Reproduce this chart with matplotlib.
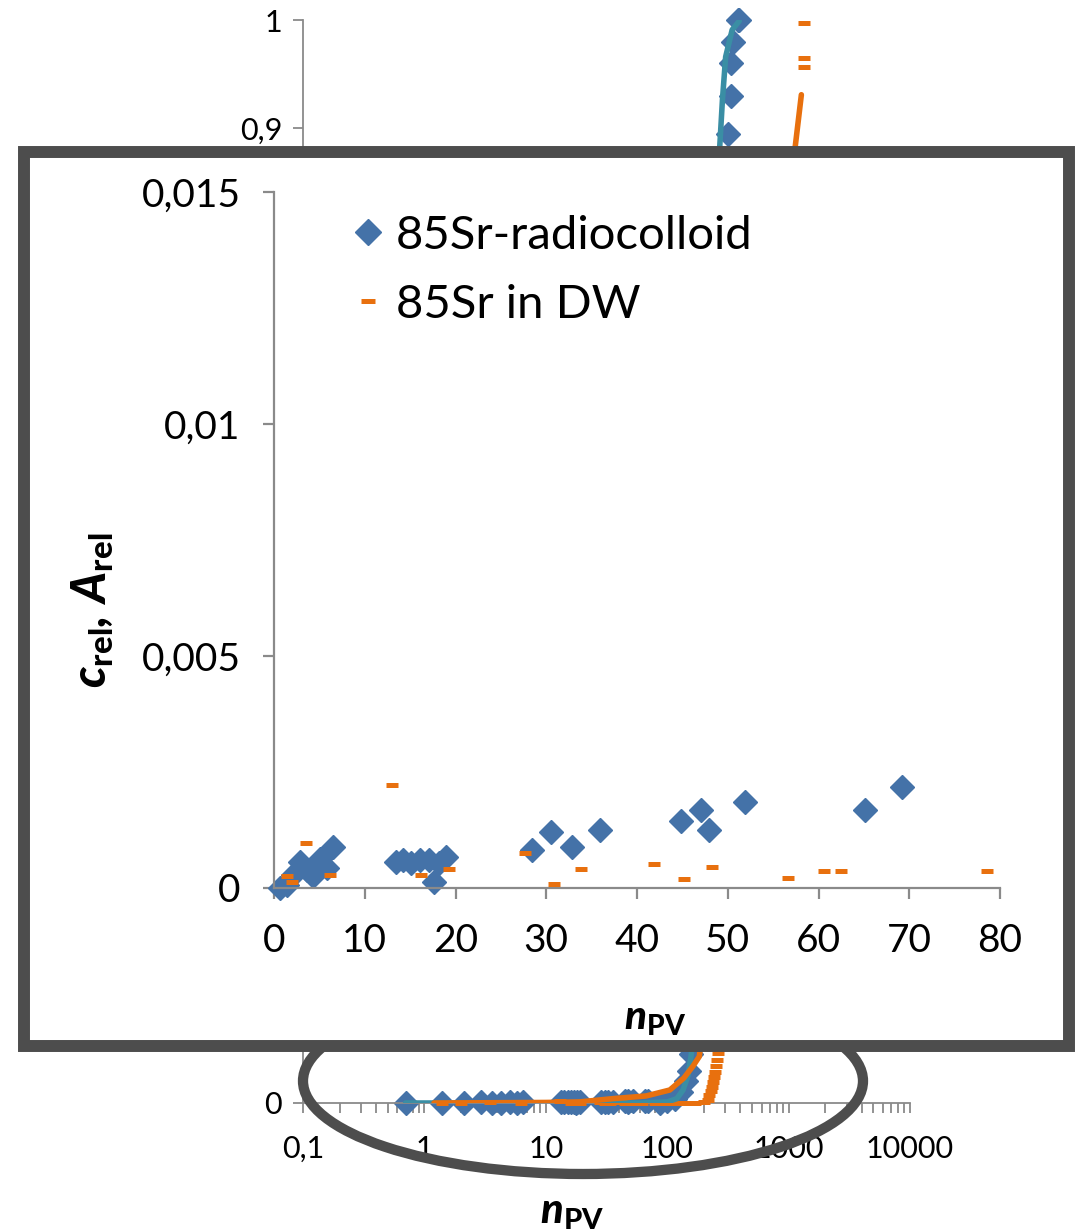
import matplotlib
matplotlib.use("Agg")
import matplotlib.pyplot as plt
from matplotlib.patches import Rectangle, Ellipse
from matplotlib.ticker import FixedLocator, FixedFormatter, LogLocator, NullFormatter

plt.rcParams['font.family'] = ['Lato', 'DejaVu Sans']
plt.rcParams['mathtext.fontset'] = 'custom'
plt.rcParams['mathtext.rm'] = 'Lato'
plt.rcParams['mathtext.bf'] = 'Lato:black'
plt.rcParams['mathtext.it'] = 'Lato:italic'
plt.rcParams['mathtext.bfit'] = 'Lato:italic:black'

# --- measured series -------------------------------------------------------
colloid_x = [0.7, 1.4, 2.1, 2.9, 3.6, 4.3, 5.1, 5.8, 6.5,
             13.4, 14.2, 15.1, 16.1, 17.1, 17.6, 18.2, 19.0,
             28.4, 30.5, 32.8, 35.9, 44.9, 47.1, 47.9, 51.9, 65.1, 69.2,
             88, 100, 115, 130, 142, 150, 156,
             314, 334, 336, 349, 385, 392]
colloid_y = [0.0, 0.00006, 0.00028, 0.00057, 0.00039, 0.00026, 0.00062, 0.00043, 0.00088,
             0.00057, 0.0006, 0.00054, 0.0006, 0.0006, 0.00014, 0.00054, 0.00067,
             0.00082, 0.00121, 0.00089, 0.00125, 0.00145, 0.00169, 0.00126, 0.00186, 0.00169, 0.00218,
             0.0, 0.002, 0.004, 0.01, 0.02, 0.03, 0.045,
             0.895, 0.93, 0.96, 0.98, 1.0, 1.0]

dw_x = [1.4, 2.0, 3.5, 6.2, 13.0, 16.2, 19.3, 27.7, 30.9, 33.8, 41.9, 45.2, 48.3,
        56.6, 60.6, 62.5, 78.6,
        95, 115, 140, 170, 200,
        215, 222, 228, 233, 238, 243, 248, 252, 256, 260,
        1330, 1340, 1345]
dw_y = [0.00026, 0.00014, 0.00098, 0.00029, 0.00222, 0.00029, 0.00041, 0.00075, 0.00009,
        0.00042, 0.00052, 0.00019, 0.00045, 0.00021, 0.00036, 0.00037, 0.00037,
        0.0003, 0.0003, 0.0002, 0.0004, 0.001,
        0.003, 0.007, 0.011, 0.015, 0.019, 0.024, 0.029, 0.034, 0.040, 0.046,
        0.957, 0.965, 0.997]

# --- fitted curves ----------------------------------------------------------
fit_colloid_x = [0.7, 20, 60, 100, 120, 135, 148, 158, 268, 285, 303, 343, 392]
fit_colloid_y = [0.0, 0.0, 0.0, 0.001, 0.004, 0.012, 0.025, 0.045, 0.874, 0.926, 0.966, 0.991, 0.999]

fit_dw_x = [1.2, 10, 19, 35.5, 67, 105, 137, 163, 184, 1109, 1274]
fit_dw_y = [0.0, 0.0005, 0.001, 0.004, 0.0065, 0.012, 0.023, 0.034, 0.043, 0.874, 0.931]

# --- axis ticks / labels ----------------------------------------------------
log_ticks = [0.1, 1, 10, 100, 1000, 10000]
log_tick_labels = ['0,1', '1', '10', '100', '1000', '10000']
main_y_ticks = [0.0, 0.1, 0.2, 0.3, 0.4, 0.5, 0.6, 0.7, 0.8, 0.9, 1.0]
main_y_labels = ['0', '0,1', '0,2', '0,3', '0,4', '0,5', '0,6', '0,7', '0,8', '0,9', '1']
zoom_x_ticks = [0, 10, 20, 30, 40, 50, 60, 70, 80]
zoom_x_labels = ['0', '10', '20', '30', '40', '50', '60', '70', '80']
zoom_y_ticks = [0.0, 0.005, 0.01, 0.015]
zoom_y_labels = ['0', '0,005', '0,01', '0,015']

series_names = ['85Sr-radiocolloid', '85Sr in DW']

BLUE = '#4472a8'
ORANGE = '#e8700e'
TEAL = '#3a8ea4'
AXIS = '#8a8a8a'
FRAME = '#4d4d4d'

W, H = 1076, 1230
fig = plt.figure(figsize=(W / 100, H / 100), dpi=100)


def frac(left, top, right, bottom):
    return [left / W, 1 - bottom / H, (right - left) / W, (bottom - top) / H]


# --- full breakthrough curve on log axis ---------------------------------
ax = fig.add_axes(frac(303, 20, 910, 1103), zorder=0)
ax.set_xscale('log')
ax.set_xlim(0.1, 10000)
ax.set_ylim(0, 1)
ax.plot(colloid_x, colloid_y, linestyle='none', marker='D', ms=12,
        color=BLUE, mec=BLUE, zorder=2, clip_on=False)
ax.plot(dw_x, dw_y, linestyle='none', marker='_', ms=8.6, mew=3.6,
        color=ORANGE, zorder=3, clip_on=False)
ax.plot(fit_colloid_x, fit_colloid_y, color=TEAL, lw=4, zorder=4,
        solid_capstyle='round')
ax.plot(fit_dw_x, fit_dw_y, color=ORANGE, lw=4, zorder=5,
        solid_capstyle='round')

for s in ['top', 'right']:
    ax.spines[s].set_visible(False)
for s in ['left', 'bottom']:
    ax.spines[s].set_color(AXIS)
    ax.spines[s].set_linewidth(1.3)
ax.xaxis.set_major_locator(FixedLocator(log_ticks))
ax.xaxis.set_major_formatter(FixedFormatter(log_tick_labels))
ax.xaxis.set_minor_locator(LogLocator(base=10, subs=[2, 3, 4, 5, 6, 7, 8, 9]))
ax.xaxis.set_minor_formatter(NullFormatter())
ax.yaxis.set_major_locator(FixedLocator(main_y_ticks))
ax.yaxis.set_major_formatter(FixedFormatter(main_y_labels))
ax.tick_params(axis='x', which='both', direction='out', length=7, width=1.3,
               color=AXIS, labelsize=22, pad=16)
ax.tick_params(axis='y', which='both', direction='out', length=7, width=1.3,
               color=AXIS, labelsize=22, pad=8)
ax.set_xlabel(r'$\mathbfit{n}_{\mathbf{PV}}$', fontsize=30)
ax.xaxis.set_label_coords((572 - 303) / (910 - 303), -(1194 - 1103) / (1103 - 20))
ax.patch.set_alpha(0)

# --- highlight ring around the low-concentration region --------------------
ring = Ellipse((583 / 100, (H - 1081) / 100), 5.60, 1.86,
               transform=fig.dpi_scale_trans, fill=False,
               edgecolor=FRAME, lw=7.4, zorder=0.5)
fig.add_artist(ring)

# --- framed inset panel ------------------------------------------------------
panel = Rectangle((24 / 100, (H - 1046) / 100), (1069 - 24) / 100, (1046 - 152) / 100,
                  transform=fig.dpi_scale_trans, facecolor='white',
                  edgecolor=FRAME, lw=8.6, zorder=1)
fig.add_artist(panel)

ins = fig.add_axes(frac(274, 192, 1000, 888), zorder=2)
ins.patch.set_alpha(0)
ins.set_xlim(0, 80)
ins.set_ylim(0, 0.015)
h1, = ins.plot(colloid_x, colloid_y, linestyle='none', marker='D', ms=12,
               color=BLUE, mec=BLUE, zorder=2, clip_on=False)
h2, = ins.plot(dw_x, dw_y, linestyle='none', marker='_', ms=8.6, mew=3.6,
               color=ORANGE, zorder=3, clip_on=False)
# keep only the points that fall inside the zoomed window
for line in (h1, h2):
    xs, ys = line.get_data()
    keep = [(a, b) for a, b in zip(xs, ys) if a <= 80 and b <= 0.015]
    line.set_data([k[0] for k in keep], [k[1] for k in keep])

for s in ['top', 'right']:
    ins.spines[s].set_visible(False)
for s in ['left', 'bottom']:
    ins.spines[s].set_color(AXIS)
    ins.spines[s].set_linewidth(1.6)
ins.xaxis.set_major_locator(FixedLocator(zoom_x_ticks))
ins.xaxis.set_major_formatter(FixedFormatter(zoom_x_labels))
ins.yaxis.set_major_locator(FixedLocator(zoom_y_ticks))
ins.yaxis.set_major_formatter(FixedFormatter(zoom_y_labels))
ins.tick_params(axis='x', direction='out', length=8, width=1.6,
                color=AXIS, labelsize=28, pad=17)
ins.tick_params(axis='y', direction='out', length=8, width=1.6,
                color=AXIS, labelsize=28, pad=16)
ins.set_xlabel(r'$\mathbfit{n}_{\mathbf{PV}}$', fontsize=29)
ins.xaxis.set_label_coords((655 - 274) / (1000 - 274), -(1001 - 888) / (888 - 192))
ins.set_ylabel(r'$\mathbfit{c}_{\mathbf{rel}}\mathbfit{,}\ \mathbfit{A}_{\mathbf{rel}}$',
               fontsize=34)
ins.yaxis.set_label_coords(-(274 - 116) / (1000 - 274), (888 - 610) / (888 - 192))

leg = ins.legend([h1, h2], series_names, loc='upper left', frameon=False,
                 fontsize=34, handlelength=0.55, handletextpad=0.32,
                 labelspacing=0.57, borderaxespad=0, markerscale=1.1,
                 bbox_to_anchor=((336 - 274) / (1000 - 274), (888 - 196) / (888 - 192)))

fig.savefig('out.png', dpi=100)
